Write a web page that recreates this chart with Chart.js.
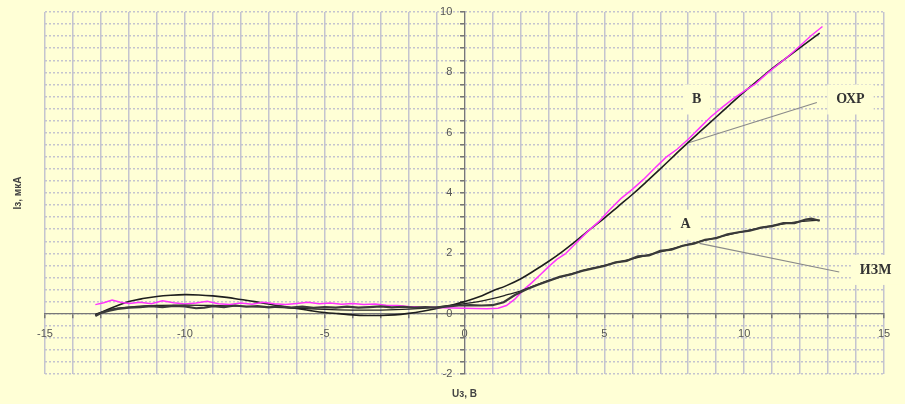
<!DOCTYPE html>
<html lang="ru">
<head>
<meta charset="UTF-8">
<title>Iз(Uз)</title>
<script src="https://cdn.jsdelivr.net/npm/chart.js"></script>
<style>
  body { margin: 0; background: #ffffd6; }
  canvas { display: block; }
</style>
</head>
<body>
<canvas id="chart" width="905" height="404"></canvas>
<script>
  // tick labels / axes
  const xMin = -15, xMax = 15, xStep = 1;
  const yMin = -2, yMax = 10, yStep = 0.4;
  const xTitle = 'Uз, В';
  const yTitle = 'Iз, мкА';

  // B, measured (magenta, noisy)
  const bMeasX = [-13.2,-12.9,-12.6,-12.3,-12.0,-11.6,-11.2,-10.8,-10.4,-10.0,-9.6,-9.2,-8.8,-8.4,-8.0,-7.6,-7.2,-6.8,-6.4,-6.0,-5.6,-5.2,-4.8,-4.4,-4.0,-3.6,-3.2,-2.8,-2.4,-2.0,-1.6,-1.2,-0.8,-0.4,0,0.4,0.8,1.2,1.5,1.8,2.1,2.4,2.7,3.0,3.3,3.6,4.0,4.4,4.8,5.2,5.6,6.0,6.4,6.8,7.2,7.6,8.0,8.4,8.8,9.2,9.6,10.0,10.4,10.8,11.2,11.6,12.0,12.4,12.8];
  const bMeasY = [0.30,0.36,0.45,0.38,0.34,0.38,0.33,0.43,0.36,0.32,0.35,0.41,0.33,0.30,0.35,0.31,0.38,0.33,0.30,0.34,0.38,0.33,0.35,0.31,0.34,0.30,0.32,0.28,0.27,0.24,0.22,0.21,0.20,0.19,0.18,0.17,0.16,0.18,0.27,0.48,0.78,1.02,1.28,1.55,1.80,1.98,2.35,2.72,3.05,3.45,3.82,4.12,4.45,4.82,5.18,5.45,5.78,6.15,6.52,6.83,7.12,7.38,7.62,7.95,8.25,8.55,8.88,9.22,9.52];

  // B, fitted (smooth black)
  const bFitX = [-13.2,-12.8,-12.4,-12.0,-11.5,-11.0,-10.5,-10.0,-9.5,-9.0,-8.5,-8.0,-7.5,-7.0,-6.5,-6.0,-5.5,-5.0,-4.5,-4.0,-3.5,-3.0,-2.5,-2.0,-1.5,-1.0,-0.5,0,0.5,1.0,1.5,2.0,2.5,3.0,3.5,4.0,4.5,5.0,5.5,6.0,6.5,7.0,7.5,8.0,8.5,9.0,9.5,10.0,10.5,11.0,11.5,12.0,12.7];
  const bFitY = [-0.05,0.12,0.27,0.40,0.50,0.57,0.61,0.63,0.62,0.59,0.54,0.47,0.40,0.32,0.24,0.17,0.10,0.04,0.00,-0.04,-0.06,-0.06,-0.04,0.01,0.08,0.17,0.27,0.40,0.55,0.75,0.93,1.15,1.43,1.73,2.06,2.42,2.80,3.17,3.56,3.95,4.37,4.80,5.24,5.68,6.10,6.52,6.94,7.35,7.74,8.12,8.47,8.82,9.30];

  // A, measured (black, noisy)
  const aMeasX = [-13.2,-13.0,-12.7,-12.4,-12.0,-11.6,-11.2,-10.8,-10.4,-10.0,-9.6,-9.3,-9.0,-8.6,-8.2,-7.8,-7.4,-7.0,-6.6,-6.2,-5.8,-5.4,-5.0,-4.6,-4.2,-3.8,-3.4,-3.0,-2.6,-2.2,-1.8,-1.4,-1.0,-0.6,-0.2,0.2,0.6,1.0,1.4,1.8,2.2,2.6,3.0,3.4,3.8,4.2,4.6,5.0,5.4,5.8,6.2,6.6,7.0,7.4,7.8,8.2,8.6,9.0,9.4,9.8,10.2,10.6,11.0,11.4,11.8,12.2,12.4,12.7];
  const aMeasY = [-0.08,0.02,0.10,0.16,0.20,0.22,0.25,0.22,0.26,0.24,0.18,0.20,0.25,0.22,0.27,0.23,0.25,0.21,0.24,0.20,0.23,0.19,0.22,0.20,0.23,0.20,0.22,0.24,0.21,0.23,0.20,0.22,0.20,0.24,0.27,0.28,0.27,0.28,0.38,0.62,0.80,0.95,1.08,1.22,1.30,1.42,1.50,1.58,1.70,1.75,1.90,1.93,2.08,2.12,2.25,2.32,2.45,2.50,2.63,2.70,2.75,2.85,2.90,3.00,3.00,3.12,3.15,3.08];

  // A, fitted (smooth black)
  const aFitX = [-13.2,-12.8,-12.4,-12.0,-11.0,-10.0,-9.0,-8.0,-7.0,-6.0,-5.0,-4.0,-3.0,-2.0,-1.0,0,0.5,1.0,1.5,2.0,2.5,3.0,3.5,4.0,4.5,5.0,5.5,6.0,6.5,7.0,7.5,8.0,8.5,9.0,9.5,10.0,10.5,11.0,11.5,12.0,12.7];
  const aFitY = [-0.02,0.10,0.18,0.22,0.27,0.28,0.27,0.25,0.22,0.18,0.14,0.12,0.12,0.15,0.22,0.33,0.40,0.50,0.62,0.75,0.93,1.10,1.24,1.37,1.49,1.60,1.71,1.82,1.93,2.05,2.17,2.30,2.41,2.52,2.63,2.73,2.83,2.92,2.99,3.05,3.10];

  // leader lines
  const ohrX = [7.96, 12.6], ohrY = [5.65, 7.0];
  const izmX = [8.4, 13.4], izmY = [2.33, 1.38];

  // curve labels
  const labelText = ['В', 'ОХР', 'А', 'ИЗМ'];
  const labelX = [8.3, 13.8, 7.9, 14.7];
  const labelY = [7.1, 7.1, 2.95, 1.45];

  const bg = '#ffffd6';
  const gridColor = '#c4c4cf';
  const labelFont = 'bold 14px "Liberation Serif", "DejaVu Serif", serif';

  function pts(xs, ys) {
    return xs.map((x, i) => ({ x: x, y: ys[i] }));
  }

  const curveLabels = {
    id: 'curveLabels',
    beforeDatasetsDraw(chart) {
      const { ctx, scales: { x, y } } = chart;
      ctx.save();
      ctx.font = labelFont;
      ctx.fillStyle = bg;
      labelText.forEach((t, i) => {
        const w = ctx.measureText(t).width;
        const cx = x.getPixelForValue(labelX[i]);
        const cy = y.getPixelForValue(labelY[i]);
        ctx.fillRect(cx - w / 2 - 9, cy - 15, w + 18, 30);
      });
      ctx.restore();
    },
    afterDatasetsDraw(chart) {
      const { ctx, scales: { x, y } } = chart;
      ctx.save();
      ctx.font = labelFont;
      ctx.fillStyle = '#333';
      ctx.textAlign = 'center';
      ctx.textBaseline = 'middle';
      labelText.forEach((t, i) => {
        ctx.fillText(t, x.getPixelForValue(labelX[i]), y.getPixelForValue(labelY[i]));
      });
      ctx.restore();
    }
  };

  const tickFont = { family: 'Arial, "Liberation Sans", sans-serif', size: 11 };

  new Chart(document.getElementById('chart'), {
    type: 'scatter',
    data: {
      datasets: [
        { data: pts(aMeasX, aMeasY), borderColor: '#3a3a3a', borderWidth: 2.2 },
        { data: pts(aFitX, aFitY), borderColor: '#222', borderWidth: 1.3, tension: 0.4 },
        { data: pts(bMeasX, bMeasY), borderColor: '#ff33ff', borderWidth: 1.5 },
        { data: pts(bFitX, bFitY), borderColor: '#1e1e1e', borderWidth: 1.6, tension: 0.4 },
        { data: pts(ohrX, ohrY), borderColor: '#8a8a8a', borderWidth: 1.2 },
        { data: pts(izmX, izmY), borderColor: '#8a8a8a', borderWidth: 1.2 }
      ].map(d => Object.assign({ showLine: true, pointRadius: 0, fill: false, clip: false }, d))
    },
    options: {
      responsive: false,
      animation: false,
      layout: { padding: { top: 12, right: 21, left: 0, bottom: 0 } },
      plugins: { legend: { display: false }, tooltip: { enabled: false } },
      scales: {
        x: {
          type: 'linear',
          position: { y: 0 },
          min: xMin, max: xMax,
          afterFit: s => { s.height = 0; },
          ticks: {
            stepSize: xStep, autoSkip: false, maxRotation: 0, maxTicksLimit: 100,
            font: tickFont, color: '#555', padding: 10,
            callback: v => (v % 5 === 0 ? v : '')
          },
          grid: { color: gridColor, lineWidth: 1.5, tickLength: 4, tickColor: '#777' },
          border: { color: '#777', width: 1.2 }
        },
        y: {
          type: 'linear',
          position: { x: 0 },
          min: yMin, max: yMax,
          afterFit: s => { s.width = 0; },
          ticks: {
            stepSize: yStep, autoSkip: false, maxTicksLimit: 100,
            font: tickFont, color: '#555',
            // labels sit right against the centred axis, trailing spaces push them left
            callback: v => (Math.abs(v / 2 - Math.round(v / 2)) < 1e-6 ? Math.round(v) + '    ' : '')
          },
          grid: { color: gridColor, lineWidth: 1.5, tickLength: 4, tickColor: '#777' },
          border: { color: '#777', width: 1.2, dash: [2, 2] }
        },
        xLabel: {
          type: 'linear', position: 'bottom', min: xMin, max: xMax,
          afterFit: s => { s.height = 30; },
          grid: { display: false }, border: { display: false }, ticks: { display: false },
          title: { display: true, text: xTitle, color: '#444', font: { family: 'Arial, sans-serif', size: 10, weight: 'bold' } }
        },
        yLabel: {
          type: 'linear', position: 'left', min: yMin, max: yMax,
          afterFit: s => { s.width = 45; },
          grid: { display: false }, border: { display: false }, ticks: { display: false },
          title: { display: true, text: yTitle, color: '#444', padding: { top: 12, bottom: 4 }, font: { family: 'Arial, sans-serif', size: 10, weight: 'bold' } }
        }
      }
    },
    plugins: [curveLabels]
  });
</script>
</body>
</html>
